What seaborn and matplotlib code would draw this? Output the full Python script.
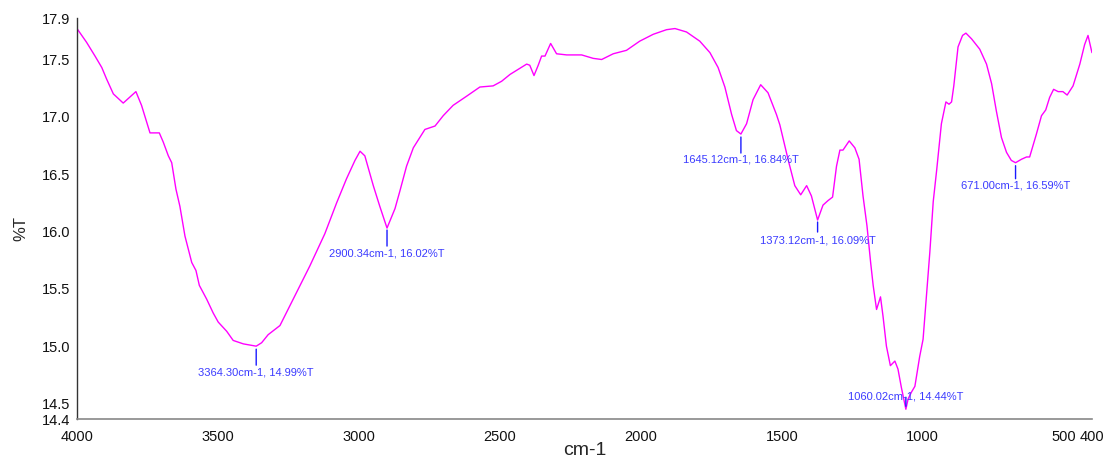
import matplotlib
matplotlib.use("Agg")
import matplotlib.pyplot as plt
import seaborn as sns
import pandas as pd

# FTIR transmittance spectrum (wavenumber in cm-1, transmittance in %T)
wavenumber = [
    4000, 3966, 3936, 3912, 3895, 3871, 3836, 3791, 3771, 3741,
    3708, 3694, 3676, 3664, 3649, 3635, 3617, 3593, 3578, 3566,
    3540, 3517, 3499, 3469, 3446, 3410, 3387, 3364.30, 3345, 3322,
    3280, 3233, 3174, 3121, 3079, 3044, 3014, 2996, 2979, 2949,
    2926, 2900.34, 2872, 2855, 2831, 2807, 2784, 2766, 2730, 2701,
    2666, 2618, 2571, 2524, 2494, 2464, 2405, 2394, 2379, 2364,
    2352, 2340, 2320, 2299, 2263, 2210, 2169, 2139, 2098, 2051,
    2004, 1956, 1909, 1879, 1838, 1791, 1755, 1726, 1702, 1678,
    1661, 1645.12, 1625, 1602, 1575, 1549, 1519, 1507, 1478, 1454,
    1433, 1412, 1395, 1373.12, 1354, 1336, 1320, 1306, 1294, 1283,
    1261, 1241, 1226, 1212, 1198, 1185, 1176, 1164, 1150, 1141,
    1129, 1115, 1099, 1088, 1076, 1060.02, 1052, 1040, 1028, 1011,
    999, 987, 975, 963, 951, 934, 918, 907, 898, 890,
    875, 859, 847, 827, 798, 774, 756, 739, 721, 703,
    686, 671.00, 650, 632, 621, 597, 579, 564, 550, 536,
    520, 503, 488, 467, 443, 426, 414, 400,
]
transmittance = [
    17.76, 17.64, 17.52, 17.42, 17.32, 17.19, 17.11, 17.21, 17.09, 16.85,
    16.85, 16.77, 16.65, 16.59, 16.36, 16.21, 15.95, 15.72, 15.65, 15.52,
    15.40, 15.28, 15.20, 15.12, 15.04, 15.01, 15.00, 14.99, 15.02, 15.09,
    15.17, 15.40, 15.69, 15.97, 16.24, 16.45, 16.61, 16.69, 16.65, 16.39,
    16.21, 16.02, 16.19, 16.34, 16.56, 16.72, 16.81, 16.88, 16.91, 17.00,
    17.09, 17.17, 17.25, 17.26, 17.30, 17.36, 17.45, 17.44, 17.35, 17.44,
    17.52, 17.52, 17.63, 17.54, 17.53, 17.53, 17.50, 17.49, 17.54, 17.57,
    17.65, 17.71, 17.75, 17.76, 17.73, 17.65, 17.55, 17.42, 17.25, 17.01,
    16.87, 16.84, 16.93, 17.14, 17.27, 17.20, 17.01, 16.92, 16.62, 16.39,
    16.31, 16.39, 16.30, 16.09, 16.22, 16.26, 16.29, 16.56, 16.70, 16.70,
    16.78, 16.72, 16.62, 16.30, 16.04, 15.72, 15.52, 15.31, 15.42, 15.25,
    14.99, 14.82, 14.86, 14.79, 14.63, 14.44, 14.53, 14.59, 14.64, 14.90,
    15.05, 15.43, 15.81, 16.25, 16.52, 16.93, 17.12, 17.10, 17.12, 17.26,
    17.60, 17.70, 17.72, 17.67, 17.58, 17.45, 17.28, 17.04, 16.81, 16.68,
    16.61, 16.59, 16.62, 16.64, 16.64, 16.84, 17.00, 17.05, 17.16, 17.23,
    17.21, 17.21, 17.18, 17.26, 17.45, 17.62, 17.70, 17.55,
]

# Labelled absorption bands
peak_wavenumber = [3364.30, 2900.34, 1645.12, 1373.12, 1060.02, 671.00]
peak_transmittance = [14.99, 16.02, 16.84, 16.09, 14.44, 16.59]

# Axis ticks
x_ticks = [4000, 3500, 3000, 2500, 2000, 1500, 1000, 500, 400]
y_ticks = [14.355, 14.5, 15.0, 15.5, 16.0, 16.5, 17.0, 17.5, 17.852]
y_tick_labels = ["14.4", "14.5", "15.0", "15.5", "16.0", "16.5", "17.0", "17.5", "17.9"]

sns.set_theme(style="white")
plt.rcParams["font.family"] = ["Liberation Sans", "DejaVu Sans"]

df = pd.DataFrame({"cm-1": wavenumber, "%T": transmittance})

fig = plt.figure(figsize=(11.06, 4.60), dpi=100)
ax = fig.add_axes([0.0696, 0.0870, 0.9177, 0.8717])

sns.lineplot(data=df, x="cm-1", y="%T", ax=ax, color="#ff00ff",
             linewidth=1.0, sort=False, estimator=None)

ax.set_xlim(4000, 400)
ax.set_ylim(y_ticks[0], y_ticks[-1])
ax.set_xticks(x_ticks)
ax.set_xticklabels([str(t) for t in x_ticks])
ax.set_yticks(y_ticks)
ax.set_yticklabels(y_tick_labels)

ax.tick_params(axis="both", direction="out", length=4, width=1,
               color="#333333", labelsize=10.5, labelcolor="#111111", pad=1)
ax.tick_params(axis="x", length=5, pad=2)

sns.despine(ax=ax)
ax.spines["left"].set_color("#333333")
ax.spines["bottom"].set_color("#888888")
ax.spines["left"].set_linewidth(1.0)
ax.spines["bottom"].set_linewidth(1.2)

ax.set_xlabel("cm-1", fontsize=14, va="center")
ax.xaxis.set_label_coords(0.5, -0.075)
ax.set_ylabel("%T", fontsize=12, va="center")
ax.yaxis.set_label_coords(-0.0555, 0.478)

# Peak marker ticks and labels; offsets in pixels (gap, tick end, text edge)
px = 0.72
label_layout = {
    3364.30: (3, 19, 20, "below"),
    2900.34: (2, 18, 19, "below"),
    1645.12: (3, 19, 19, "below"),
    1373.12: (2, 12, 14, "below"),
    1060.02: (3, 12, 9, "above"),
    671.00: (3, 16, 17, "below"),
}
for w, t in zip(peak_wavenumber, peak_transmittance):
    gap, tick_end, text_off, side = label_layout[w]
    sgn = -1 if side == "below" else 1
    ax.annotate("", xy=(w, t), xycoords="data",
                xytext=(0, sgn * tick_end * px), textcoords="offset points",
                arrowprops=dict(arrowstyle="-", color="#1a1aff", lw=1.0,
                                shrinkA=0, shrinkB=gap * px))
    ax.annotate(f"{w:.2f}cm-1, {t:.2f}%T", xy=(w, t), xycoords="data",
                xytext=(0, sgn * text_off * px), textcoords="offset points",
                ha="center", va="top" if side == "below" else "bottom",
                fontsize=8, color="#3b3bff")

fig.savefig("out.png", dpi=100)
